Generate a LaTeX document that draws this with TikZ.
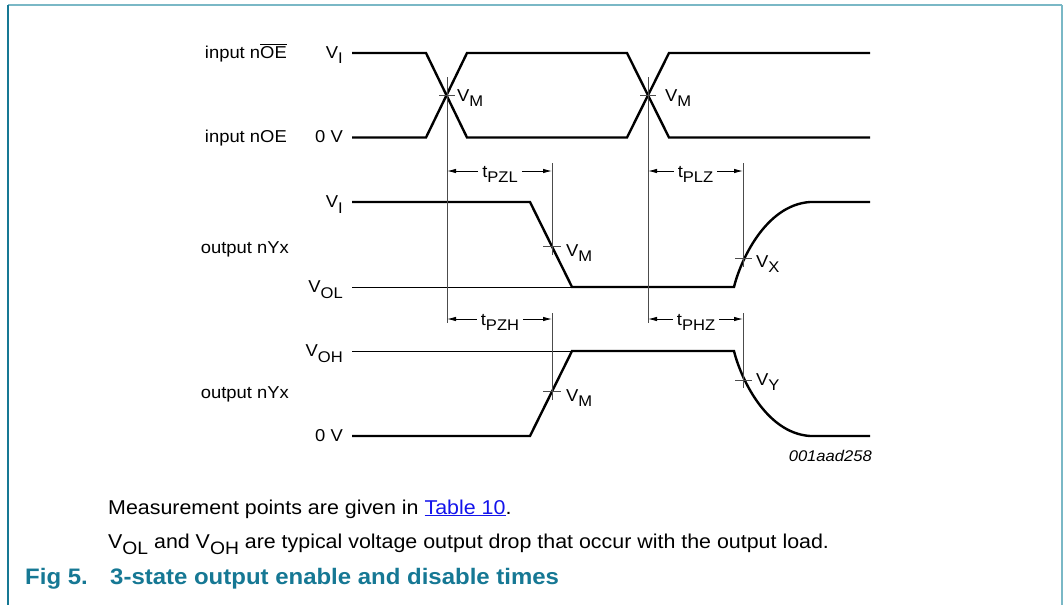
\documentclass[tikz,border=0pt]{standalone}
\usepackage{fontspec}
\setmainfont{Liberation Sans}[FakeStretch=1.07]
\usepackage{graphicx}
\usepackage{tikz}
\usetikzlibrary{arrows.meta}
\usepackage{xcolor}

\definecolor{frameteal}{RGB}{122,184,198}
\definecolor{darkteal}{RGB}{22,120,148}
\definecolor{linkblue}{RGB}{20,20,235}
\newcommand{\sbs}[1]{\raisebox{-.32em}{\scalebox{.9}{#1}}}
\newcommand{\olbar}[1]{$\overline{\mbox{#1}}$}
\newcommand{\diagfont}{\fontsize{17.2}{20}\selectfont}

\begin{document}
\begin{tikzpicture}[x=1pt, y=-1pt,
    sig/.style={line width=2.4pt},
    level/.style={line width=0.9pt},
    guide/.style={line width=0.9pt, black!70},
    arr/.style={line width=0.9pt, -{Latex[length=9pt,width=4.5pt]}},
    lbl/.style={font=\diagfont, inner sep=0pt},
    tlbl/.style={font=\diagfont, inner sep=4pt},
    body/.style={font=\fontsize{20}{24}\selectfont, inner sep=0pt},
    figcap/.style={font=\fontsize{22.4}{27}\selectfont\bfseries, text=darkteal, inner sep=0pt}]
    \useasboundingbox (0,0) rectangle (1063,605);

    \draw[line width=1.5pt, frameteal] (8,5) -- (1061.5,5);
    \draw[line width=2pt, frameteal] (1061.5,5) -- (1061.5,605);
    \draw[line width=1.5pt, darkteal] (8,5) -- (8,605);

    \node[lbl, anchor=base east] (noebar) at (287,58) {input n\olbar{OE}};
    \node[lbl, anchor=base east] (noe) at (287,142) {input nOE};
    \node[lbl, anchor=base east] (nyxa) at (289,253) {output nYx};
    \node[lbl, anchor=base east] (nyxb) at (289,398) {output nYx};

    \node[lbl, anchor=base east] (vi1) at (343,58) {V\sbs{I}};
    \node[lbl, anchor=base east] (zv1) at (343,142.5) {0 V};
    \node[lbl, anchor=base east] (vi2) at (343,207.5) {V\sbs{I}};
    \node[lbl, anchor=base east] (vol) at (343,292.5) {V\sbs{OL}};
    \node[lbl, anchor=base east] (voh) at (343,356.5) {V\sbs{OH}};
    \node[lbl, anchor=base east] (zv2) at (343,441.5) {0 V};

    \draw[sig] (352,53) -- (426,53) -- (467,137.5) -- (627,137.5) -- (669,53) -- (870,53);
    \draw[sig] (352,137.5) -- (426,137.5) -- (467,53) -- (627,53) -- (669,137.5) -- (870,137.5);
    \draw[sig] (352,202) -- (530,202) -- (572,287) -- (734,287)
        .. controls (740,262) and (765,205) .. (810,202) -- (870,202);
    \draw[sig] (352,436) -- (530,436) -- (572,351) -- (734,351)
        .. controls (740,376) and (765,433) .. (810,436) -- (870,436);
    \draw[level] (352,287) -- (572,287);
    \draw[level] (352,351) -- (572,351);

    \draw[guide] (447,77) -- (447,323);
    \draw[guide] (648,77) -- (648,323);
    \draw[guide] (552,163) -- (552,255);
    \draw[guide] (552,313) -- (552,400);
    \draw[guide] (743,163) -- (743,267);
    \draw[guide] (743,313) -- (743,388);

    \draw[guide] (439,95.3) -- (455,95.3);
    \draw[guide] (640,95.3) -- (656,95.3);
    \draw[guide] (543,246.5) -- (561,246.5);
    \draw[guide] (735,258) -- (752,258);
    \draw[guide] (543,391.5) -- (561,391.5);
    \draw[guide] (735,380) -- (752,380);

    \node[lbl, anchor=base west] (vm1) at (457,101) {V\sbs{M}};
    \node[lbl, anchor=base west] (vm2) at (665,101) {V\sbs{M}};
    \node[lbl, anchor=base west] (vm3) at (566,256) {V\sbs{M}};
    \node[lbl, anchor=base west] (vx) at (756,267) {V\sbs{X}};
    \node[lbl, anchor=base west] (vm4) at (566,401) {V\sbs{M}};
    \node[lbl, anchor=base west] (vy) at (756,385) {V\sbs{Y}};

    \coordinate (pzlL) at (447,171);
    \coordinate (pzlR) at (552,171);
    \coordinate (plzL) at (648,171);
    \coordinate (plzR) at (743,171);
    \coordinate (pzhL) at (447,319);
    \coordinate (pzhR) at (552,319);
    \coordinate (phzL) at (648,319);
    \coordinate (phzR) at (743,319);

    \node[tlbl, anchor=base] (tpzl) at (500,177) {t\sbs{PZL}};
    \node[tlbl, anchor=base] (tplz) at (695.5,177) {t\sbs{PLZ}};
    \node[tlbl, anchor=base] (tpzh) at (500,325) {t\sbs{PZH}};
    \node[tlbl, anchor=base] (tphz) at (696,325) {t\sbs{PHZ}};

    \draw[arr] (tpzl.west |- pzlL) -- (pzlL);
    \draw[arr] (tpzl.east |- pzlR) -- (pzlR);
    \draw[arr] (tplz.west |- plzL) -- (plzL);
    \draw[arr] (tplz.east |- plzR) -- (plzR);
    \draw[arr] (tpzh.west |- pzhL) -- (pzhL);
    \draw[arr] (tpzh.east |- pzhR) -- (pzhR);
    \draw[arr] (tphz.west |- phzL) -- (phzL);
    \draw[arr] (tphz.east |- phzR) -- (phzR);

    \node[lbl, anchor=base east, font=\fontsize{15.5}{18}\selectfont\itshape] (code) at (872,461) {001aad258};

    \node[body, anchor=base west] (note1) at (108,514) {Measurement points are given in \textcolor{linkblue}{\underline{Table 10}}.};
    \node[body, anchor=base west] (note2) at (108,548) {V\sbs{OL} and V\sbs{OH} are typical voltage output drop that occur with the output load.};
    \node[figcap, anchor=base west] (fignum) at (25,584) {Fig 5.};
    \node[figcap, anchor=base west] (figtitle) at (110,584) {3-state output enable and disable times};
\end{tikzpicture}
\end{document}
